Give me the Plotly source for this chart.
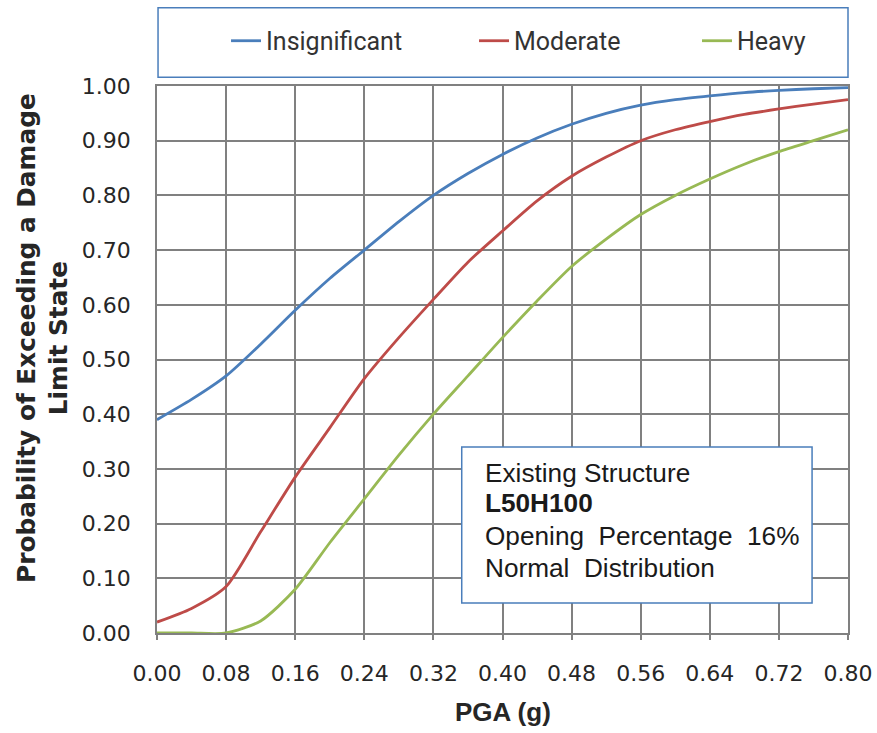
import plotly.graph_objects as go

pga = [0.00, 0.04, 0.08, 0.12, 0.16, 0.20, 0.24, 0.28, 0.32, 0.36, 0.40,
       0.44, 0.48, 0.52, 0.56, 0.60, 0.64, 0.68, 0.72, 0.76, 0.80]
insignificant = [0.39, 0.427, 0.47, 0.528, 0.59, 0.648, 0.70, 0.752, 0.80, 0.84, 0.875,
                 0.905, 0.93, 0.95, 0.965, 0.975, 0.982, 0.988, 0.992, 0.995, 0.997]
moderate = [0.02, 0.045, 0.085, 0.185, 0.285, 0.375, 0.465, 0.54, 0.61, 0.678, 0.735,
            0.79, 0.835, 0.87, 0.90, 0.92, 0.935, 0.948, 0.958, 0.967, 0.975]
heavy = [0.0, 0.0, 0.0, 0.022, 0.08, 0.165, 0.245, 0.325, 0.40, 0.47, 0.54,
         0.607, 0.67, 0.72, 0.765, 0.80, 0.83, 0.857, 0.88, 0.90, 0.92]

x_ticks = [0.00, 0.08, 0.16, 0.24, 0.32, 0.40, 0.48, 0.56, 0.64, 0.72, 0.80]
y_ticks = [0.0, 0.1, 0.2, 0.3, 0.4, 0.5, 0.6, 0.7, 0.8, 0.9, 1.0]

series_names = ["Insignificant", "Moderate", "Heavy"]
series_values = [insignificant, moderate, heavy]
series_colors = ["#4a7ebb", "#be4b48", "#98b954"]
legend_ids = ["legend", "legend2", "legend3"]
legend_x = [0.0999, 0.4588, 0.7815]

info_lines = ["Existing Structure", "<b>L50H100</b>",
              "Opening  Percentage  16%", "Normal  Distribution"]
info_y = [0.292, 0.237, 0.177, 0.118]

TXT = "#262626"
GRID = "#808080"

fig = go.Figure()
for name, vals, col, lg in zip(series_names, series_values, series_colors, legend_ids):
    fig.add_trace(go.Scatter(x=pga, y=vals, mode="lines", name=name, legend=lg,
                             line=dict(color=col, width=2.8, shape="spline", smoothing=0.7)))

legend_common = dict(orientation="h", yanchor="middle", y=1.0823, xanchor="left",
                     font=dict(family="Roboto, sans-serif", size=25, color="#333333"),
                     bgcolor="rgba(0,0,0,0)", borderwidth=0)
layout_legends = {}
for lg, lx in zip(legend_ids, legend_x):
    layout_legends[lg] = dict(legend_common, x=lx)

fig.update_layout(
    width=877, height=733,
    margin=dict(l=157, r=29, t=86, b=100, autoexpand=False),
    paper_bgcolor="white", plot_bgcolor="white",
    showlegend=True,
    **layout_legends,
    xaxis=dict(range=[0, 0.8], tickvals=x_ticks, ticktext=[f"{v:.2f}" for v in x_ticks],
               automargin=False,
               showgrid=True, gridcolor=GRID, gridwidth=1.6,
               showline=True, linecolor=GRID, linewidth=1.6, mirror=True,
               ticks="outside", ticklen=5, tickcolor=GRID, tickwidth=1.6,
               ticklabelstandoff=15, ticklabeloverflow="allow",
               tickfont=dict(family="DejaVu Sans, Verdana, sans-serif", size=22, color=TXT),
               zeroline=False),
    yaxis=dict(range=[0, 1.0], tickvals=y_ticks, ticktext=[f"{v:.2f}" for v in y_ticks],
               automargin=False,
               showgrid=True, gridcolor=GRID, gridwidth=1.6,
               showline=True, linecolor=GRID, linewidth=1.6, mirror=True,
               ticks="", ticklabelstandoff=20, ticklabeloverflow="allow",
               tickfont=dict(family="DejaVu Sans, Verdana, sans-serif", size=22, color=TXT),
               zeroline=False),
)

# axis titles
fig.add_annotation(xref="paper", yref="paper", x=-0.166, y=0.54, xanchor="center", yanchor="middle",
                   textangle=-90, showarrow=False,
                   text="<b>Probability of Exceeding a Damage<br>Limit State</b>",
                   font=dict(family="DejaVu Sans, sans-serif", size=24.8, color=TXT))
fig.add_annotation(xref="paper", yref="paper", x=0.5, y=-0.1444, xanchor="center", yanchor="middle",
                   showarrow=False, text="<b>PGA (g)</b>",
                   font=dict(family="Liberation Sans, Arial, sans-serif", size=26, color=TXT))

# legend frame
fig.add_shape(type="rect", xref="paper", yref="paper", x0=0.0015, x1=1.0, y0=1.016, y1=1.143,
              line=dict(color="#4a7ebb", width=1.5), fillcolor="rgba(0,0,0,0)", layer="above")
# info box
fig.add_shape(type="rect", xref="paper", yref="paper", x0=0.441, x1=0.948, y0=0.055, y1=0.340,
              line=dict(color="#4a7ebb", width=1.5), fillcolor="white", layer="above")
for txt, ty in zip(info_lines, info_y):
    fig.add_annotation(xref="paper", yref="paper", x=0.472, y=ty, xanchor="left", yanchor="middle",
                       align="left", showarrow=False, text=txt,
                       font=dict(family="Liberation Sans, Arial, sans-serif", size=26.2, color="#1a1a1a"))

fig.write_html("out.html", config={"displayModeBar": False},
               post_script="document.body.style.margin='0';document.body.style.overflow='hidden';")
